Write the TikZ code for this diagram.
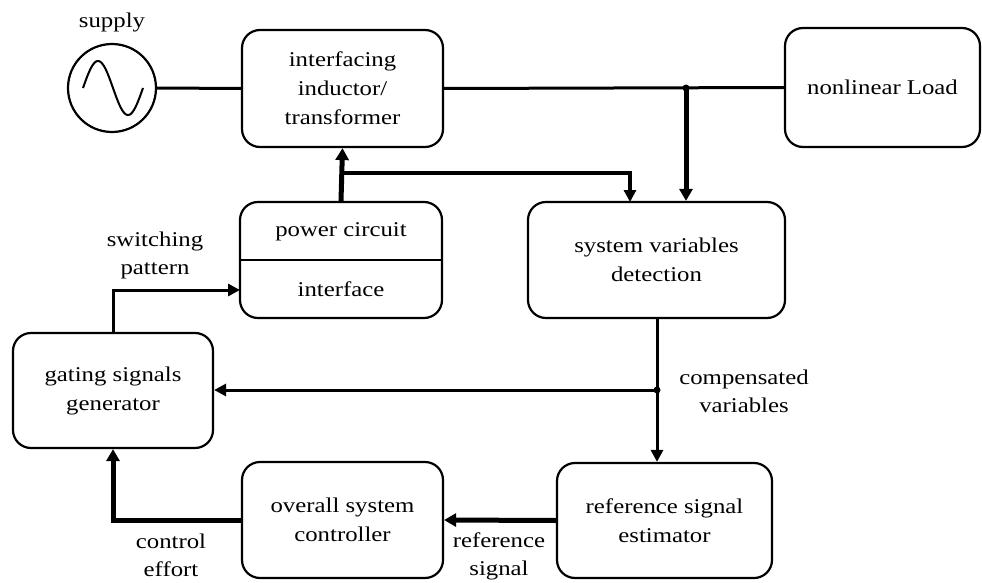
\documentclass[tikz,border=0pt]{standalone}
\usepackage{fontspec}
\setmainfont{Liberation Serif}[FakeStretch=1.18]
\usetikzlibrary{arrows.meta}
\begin{document}
\begin{tikzpicture}[x=1pt,y=-1pt,
  box/.style={draw,rounded corners=18pt,line width=2.2pt,inner sep=0pt,align=center,
    font=\fontsize{21}{29}\selectfont},
  lbl/.style={align=center,font=\fontsize{21}{28}\selectfont,inner sep=0pt},
  wire/.style={line width=3pt},
  wirearrow/.style={line width=3pt,-{Triangle[length=12pt,width=12pt]}},
  fatarrow/.style={line width=5pt,-{Triangle[length=12pt,width=13pt]}},
  dot/.style={circle,fill=black,inner sep=0pt,minimum size=7pt}]
\useasboundingbox (0,0) rectangle (982,583);

% nodes
\node[draw,circle,line width=2.2pt,minimum size=88pt,inner sep=0pt] (sup) at (112,88) {};
\draw[line width=2pt] plot[domain=0:360,samples=60] ({83+\x/6},{88-27*sin(\x)});
\node[lbl] (suplbl) at (112,22) {supply};

\node[box,minimum width=201pt,minimum height=117pt] (iface) at (342.5,88.5) {interfacing\\inductor/\\transformer};
\node[box,minimum width=195pt,minimum height=119pt] (load) at (882.5,87.5) {nonlinear Load};
\node[box,minimum width=202pt,minimum height=116pt] (pc) at (341,260) {};
\draw[line width=2.2pt] (pc.west) -- (pc.east);
\node[lbl] (pctop) at (341,232) {power circuit};
\node[lbl] (pcbot) at (341,289) {interface};
\node[box,minimum width=257pt,minimum height=116pt] (sysv) at (656.5,260) {system variables\\detection};
\node[box,minimum width=200pt,minimum height=115pt] (gat) at (113,390.5) {gating signals\\generator};
\node[box,minimum width=201pt,minimum height=116pt] (ctrl) at (342.5,520) {overall system\\controller};
\node[box,minimum width=215pt,minimum height=115pt] (est) at (664.5,520.5) {reference signal\\estimator};

% labels
\node[lbl] (swl) at (155,255) {switching\\pattern};
\node[lbl] (cvl) at (744,391) {compensated\\variables};
\node[lbl] (cel) at (171,555) {control\\effort};
\node[lbl] (rsl) at (499,556) {reference\\signal};

% junctions
\coordinate (j1) at (686,88);
\coordinate (j2) at (342,173);
\coordinate (j3) at (657,390);
\coordinate (t2) at (630,202);
\coordinate (ipin) at (240,290);

% connectors
\draw[wire] (sup.east) -- (iface.west);
\draw[wire] (iface.east) -- (load.west);
\draw[fatarrow] (j1) -- (j1 |- sysv.north);
\node[dot] (d1) at (j1) {};
\draw[fatarrow] (pc.north) -- (iface.south);
\draw[line width=4.5pt,-{Triangle[length=12pt,width=12pt]}] (j2) -| (t2);
\draw[wirearrow] (gat.north) |- (ipin);
\draw[wirearrow] (sysv.south -| j3) -- (j3 |- est.north);
\draw[wirearrow] (j3) -- (gat.east |- j3);
\node[dot] (d3) at (j3) {};
\draw[fatarrow] (est.west) -- (ctrl.east);
\draw[fatarrow] (ctrl.west) -| (gat.south);
\end{tikzpicture}
\end{document}
